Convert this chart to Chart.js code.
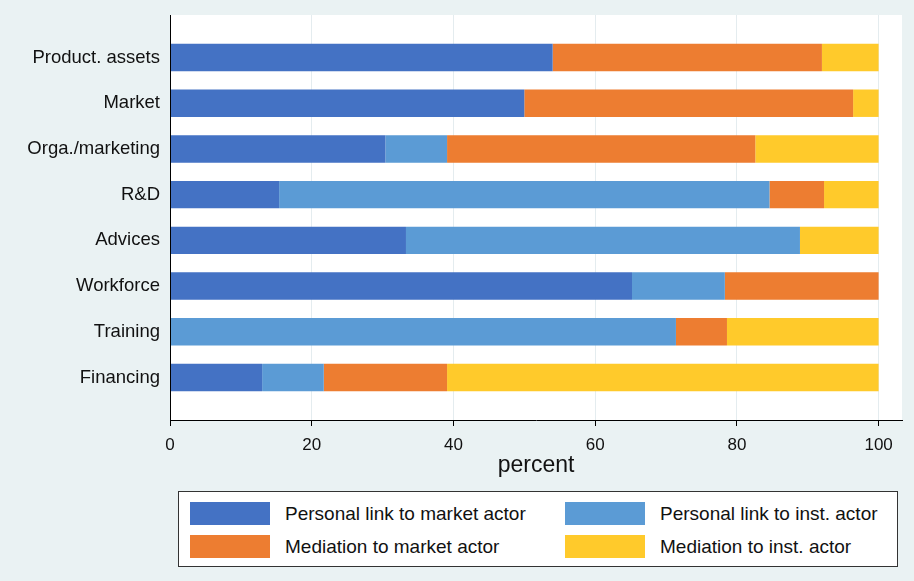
<!DOCTYPE html>
<html>
<head>
<meta charset="utf-8">
<script src="https://cdn.jsdelivr.net/npm/chart.js@4"></script>
<style>
  html, body { margin: 0; padding: 0; background: #eaf2f3; }
  #wrap { position: relative; width: 914px; height: 581px; font-family: "Liberation Sans", Arial, sans-serif; }
  #legend {
    position: absolute; left: 178px; top: 491px; width: 720px; height: 76px;
    background: #fff; border: 1px solid #333; box-sizing: border-box;
  }
  .item { position: absolute; height: 23px; font-size: 19px; color: #111; }
  .item span.box { position: absolute; left: 0; top: 0; width: 80px; height: 23px; }
  .item span.txt { position: absolute; left: 95px; top: 0; line-height: 23px; white-space: nowrap; }
</style>
</head>
<body>
<div id="wrap">
  <canvas id="chart" width="914" height="581"></canvas>
  <div id="legend"></div>
</div>
<script>
const categories = ['Product. assets', 'Market', 'Orga./marketing', 'R&D', 'Advices', 'Workforce', 'Training', 'Financing'];

const seriesNames = [
  'Personal link to market actor',
  'Personal link to inst. actor',
  'Mediation to market actor',
  'Mediation to inst. actor',
];
const seriesColors = ['#4472c4', '#5b9bd5', '#ed7d31', '#ffca2b'];

// percent per category
const personalMarket = [54.0, 50.0, 30.4, 15.4, 33.3, 65.2, 0, 13.0];
const personalInst = [0, 0, 8.7, 69.2, 55.6, 13.1, 71.4, 8.7];
const mediationMarket = [38.0, 46.4, 43.5, 7.7, 0, 21.7, 7.2, 17.4];
const mediationInst = [8.0, 3.6, 17.4, 7.7, 11.1, 0, 21.4, 60.9];

const xTicks = [0, 20, 40, 60, 80, 100];

const seriesValues = [personalMarket, personalInst, mediationMarket, mediationInst];

const plotBg = {
  id: 'plotBg',
  beforeDraw(chart) {
    const { ctx, chartArea } = chart;
    ctx.save();
    ctx.fillStyle = '#ffffff';
    ctx.fillRect(chartArea.left, chartArea.top, chartArea.width, chartArea.height);
    ctx.restore();
  },
};

const chart = new Chart(document.getElementById('chart').getContext('2d'), {
  type: 'bar',
  data: {
    datasets: seriesNames.map((name, i) => ({
      label: name,
      data: seriesValues[i].map((v, j) => ({ x: v, y: j })),
      backgroundColor: seriesColors[i],
      borderWidth: 0,
      barPercentage: 0.6,
      categoryPercentage: 1,
    })),
  },
  options: {
    indexAxis: 'y',
    responsive: false,
    animation: false,
    layout: { padding: { left: 0, top: 15, right: 12, bottom: 101 } },
    plugins: {
      legend: { display: false },
      tooltip: { enabled: false },
    },
    scales: {
      x: {
        type: 'linear',
        stacked: true,
        min: 0,
        max: 103.3,
        afterFit: (scale) => { scale.height = 60; },
        afterBuildTicks: (scale) => { scale.ticks = xTicks.map((v) => ({ value: v })); },
        grid: { color: '#e4ecef', lineWidth: 1, tickColor: '#000', tickLength: 6 },
        border: { display: true, color: '#000', width: 1, z: 1 },
        ticks: {
          color: '#111',
          font: { family: 'Liberation Sans', size: 17 },
          padding: 9,
        },
        title: {
          display: true,
          text: 'percent',
          color: '#111',
          font: { family: 'Liberation Sans', size: 23 },
          padding: { top: 0, bottom: 1 },
        },
      },
      y: {
        type: 'linear',
        stacked: true,
        reverse: true,
        offset: false,
        min: -0.93,
        max: 7.93,
        afterFit: (scale) => {
          scale.width = 170;
          scale.paddingTop = 0;
          scale.paddingBottom = 0;
        },
        grid: { display: false, drawTicks: false, offset: false },
        border: { display: true, color: '#000', width: 1, z: 1 },
        ticks: {
          stepSize: 1,
          includeBounds: false,
          autoSkip: false,
          color: '#111',
          font: { family: 'Liberation Sans', size: 18.5 },
          padding: 10,
          callback: (v) => (Number.isInteger(v) && categories[v] !== undefined ? categories[v] : ''),
        },
      },
    },
  },
  plugins: [plotBg],
});

// legend, two columns like the original
const legend = document.getElementById('legend');
const colX = [11, 386];
const rowY = [10, 43];
seriesNames.forEach((name, i) => {
  const item = document.createElement('div');
  item.className = 'item';
  item.style.left = colX[i % 2] + 'px';
  item.style.top = rowY[Math.floor(i / 2)] + 'px';
  item.innerHTML = `<span class="box" style="background:${seriesColors[i]}"></span><span class="txt"></span>`;
  item.querySelector('.txt').textContent = name;
  legend.appendChild(item);
});
</script>
</body>
</html>
